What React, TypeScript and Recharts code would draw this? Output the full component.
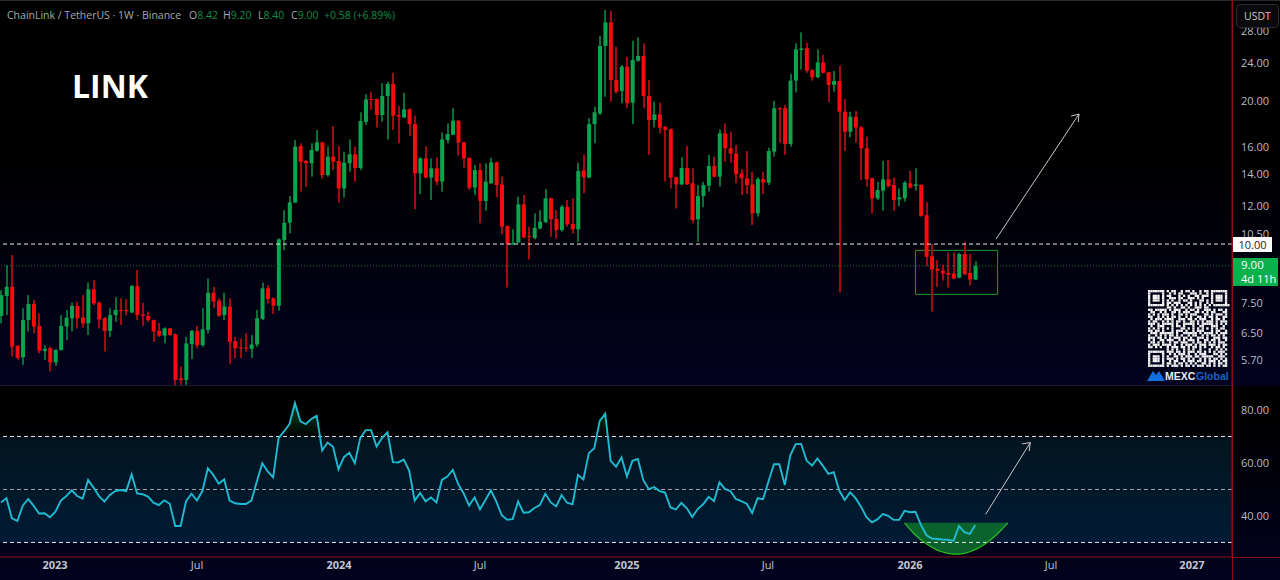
import React from "react";
import {
  ComposedChart, Bar, Line, Area, XAxis, YAxis, ReferenceLine, ReferenceArea,
} from "recharts";

const opens = [7.06,7.78,8.13,6.11,5.78,6.92,7.48,6.73,5.96,6.04,5.64,5.99,6.71,6.98,7.41,7.01,6.81,8.03,7.53,6.98,6.57,7.09,7.27,7.27,7.18,8.16,7.11,7.06,6.92,6.57,6.42,6.65,6.46,5.22,5.18,6.16,6.57,6.13,6.60,7.90,7.60,7.09,7.39,6.25,6.06,6.06,6.02,6.15,6.96,8.07,7.69,7.42,10.20,11.09,12.22,16.08,14.95,14.79,15.72,16.36,13.97,15.27,14.95,13.09,14.79,15.45,14.45,18.07,20.18,20.18,18.68,20.48,21.71,18.68,18.47,19.20,17.87,14.08,15.14,13.80,14.43,13.53,16.55,16.98,18.17,16.36,15.17,13.15,14.31,12.32,13.42,14.85,13.35,10.91,9.99,10.08,12.12,10.40,10.30,10.79,11.12,12.48,11.30,10.70,11.98,11.02,10.74,14.28,13.80,17.87,18.83,26.09,29.25,22.13,20.98,23.60,19.83,24.30,24.87,20.48,18.23,18.74,17.65,17.43,13.82,13.35,14.45,13.42,11.27,12.62,13.27,14.59,13.86,17.09,15.90,15.50,14.08,13.75,13.35,11.60,13.70,13.46,15.64,19.30,19.30,16.24,22.06,25.59,25.83,23.23,22.43,24.10,22.96,21.61,22.02,18.98,17.23,18.53,17.59,15.90,13.75,12.48,12.95,13.68,13.31,12.42,12.48,13.42,13.24,13.31,11.50,9.43,8.87,8.79,8.70,8.67,8.50,9.53,8.70,8.42];
const highs = [8.00,9.03,9.48,6.13,7.33,7.81,7.63,7.15,6.13,6.08,6.01,7.09,7.27,7.53,7.57,7.81,8.30,8.40,7.57,7.03,7.33,7.73,7.69,7.66,8.20,8.82,7.53,7.21,6.94,6.83,6.68,6.65,6.49,5.53,6.38,6.60,6.73,7.33,8.47,8.13,7.69,7.90,7.69,6.38,6.33,6.49,6.44,7.27,8.30,8.20,7.73,10.28,11.79,12.62,16.55,16.29,15.02,16.29,17.37,16.42,16.03,17.71,16.08,15.64,16.60,16.03,18.93,20.66,20.91,20.24,21.78,21.95,22.92,19.52,20.80,19.30,18.62,15.22,16.08,15.14,15.22,17.17,17.93,19.30,18.23,16.42,15.22,14.66,14.79,14.79,15.19,14.90,13.86,10.95,10.74,12.58,12.68,10.88,11.60,11.79,13.05,12.52,11.79,12.08,12.38,12.48,14.83,15.40,18.38,19.46,27.37,31.06,30.90,26.00,23.80,24.78,26.77,27.20,26.43,22.13,19.93,19.83,17.71,17.51,13.86,15.22,16.08,14.43,13.31,13.53,15.40,15.27,17.43,17.93,17.23,16.16,14.36,15.69,14.20,13.82,14.20,15.95,20.00,19.40,19.61,22.78,26.43,27.87,26.51,23.30,25.67,25.00,23.04,23.12,23.71,20.18,18.98,19.04,17.71,16.82,13.80,13.53,14.97,15.02,13.80,13.09,13.57,14.26,14.43,13.35,12.24,10.00,9.25,9.06,9.60,9.60,9.59,10.11,9.53,9.20];
const lows = [6.81,7.09,5.80,5.71,5.57,6.55,6.49,5.89,5.71,5.40,5.54,5.97,6.28,6.55,6.65,6.68,6.44,7.44,6.65,5.94,6.38,6.86,6.76,7.09,7.17,6.92,6.73,6.86,6.23,6.38,6.18,6.41,5.04,5.06,5.06,5.73,6.04,6.08,6.49,7.33,7.03,6.92,5.60,5.76,5.76,5.94,5.76,6.08,6.92,7.50,7.13,7.24,9.71,10.53,12.22,12.89,13.20,13.86,15.64,13.75,13.86,14.31,12.22,12.54,14.20,13.53,14.31,17.79,19.14,17.57,18.08,16.60,17.37,16.29,18.38,16.87,11.83,12.74,13.75,12.38,13.31,12.89,16.29,16.95,15.35,14.48,12.99,12.69,11.06,11.76,13.38,12.54,10.49,8.10,9.95,10.03,10.28,9.28,10.23,10.74,11.06,10.36,10.26,10.62,10.88,10.53,10.11,12.79,13.75,16.29,18.68,20.41,19.93,20.74,19.77,19.30,17.87,24.18,19.30,15.40,17.59,17.09,13.53,13.09,11.88,13.31,13.31,11.06,10.11,11.95,12.89,13.82,13.20,14.90,14.83,13.42,12.68,12.74,10.97,11.42,12.74,13.31,15.27,16.34,15.40,16.03,20.84,23.30,22.92,22.06,22.32,22.85,19.87,20.91,7.91,15.69,16.78,16.34,13.64,13.20,11.60,12.38,11.76,13.15,11.76,12.02,12.28,13.09,12.95,11.42,8.98,7.21,8.13,8.38,8.10,8.43,8.47,8.60,8.19,8.40];
const closes = [7.81,8.13,6.08,5.76,6.92,7.48,6.71,5.97,6.02,5.64,5.99,6.73,7.00,7.41,6.98,6.81,8.03,7.50,6.94,6.57,7.09,7.27,7.23,7.22,8.16,7.09,7.06,6.92,6.55,6.42,6.65,6.44,5.18,5.18,6.18,6.57,6.13,6.62,7.90,7.57,7.07,7.39,6.23,6.04,6.04,6.04,6.15,6.98,8.07,7.66,7.42,10.23,11.09,12.24,16.03,14.90,14.79,15.77,16.36,13.97,15.27,14.90,13.09,14.83,15.45,14.45,18.14,20.15,20.09,18.68,20.48,21.71,18.62,18.53,19.20,17.87,14.08,15.14,13.80,14.43,13.53,16.60,17.04,18.17,16.34,15.14,13.13,14.31,12.32,13.53,14.85,13.31,10.88,10.00,10.06,12.12,10.33,10.36,10.82,11.15,12.48,11.27,10.70,11.98,11.00,10.74,14.24,13.80,17.87,18.93,26.09,29.25,22.13,20.91,23.60,19.77,24.38,24.87,20.48,18.23,18.74,17.57,17.37,13.80,13.35,14.45,13.35,11.24,12.62,13.31,14.59,13.86,17.09,15.90,15.50,14.03,13.75,13.31,11.60,13.70,13.46,15.69,19.30,19.23,16.24,22.06,25.67,25.79,23.16,22.43,24.10,22.92,21.61,22.02,18.98,17.23,18.53,17.57,15.90,13.68,12.48,12.99,13.68,13.24,12.38,12.54,13.46,13.15,13.35,11.47,9.40,8.84,8.79,8.67,8.62,8.47,9.53,8.65,8.42,9.00];

const rsiValues = [45.1,46.7,39.1,38.1,43.9,46.4,43.8,40.9,41.0,39.5,41.6,45.8,47.5,49.7,47.5,46.5,53.6,50.7,47.5,45.4,47.9,49.4,49.8,49.4,55.7,48.5,48.2,47.3,45.0,44.1,45.9,44.6,36.2,36.2,45.6,48.4,45.8,49.4,58.0,55.5,52.2,53.8,45.8,44.8,44.5,44.5,45.8,53.0,59.9,56.8,54.6,69.4,71.9,74.7,82.6,75.7,74.7,76.6,77.8,64.7,67.7,66.1,57.6,62.2,63.9,59.9,69.4,72.4,72.4,66.2,69.4,71.6,60.3,60.2,61.3,57.0,45.8,48.7,45.5,47.0,45.1,53.6,54.9,57.4,52.0,48.5,43.9,47.0,42.5,46.0,49.7,45.4,40.3,38.6,38.8,45.4,41.2,41.4,43.0,44.1,48.4,45.1,43.6,47.9,45.0,44.4,55.5,53.8,63.7,65.6,75.9,78.6,60.8,58.6,62.1,54.9,60.8,61.5,53.6,50.1,50.9,49.4,48.8,43.2,42.5,44.9,42.9,39.6,42.6,44.4,47.2,45.6,52.7,50.2,49.4,46.4,45.6,44.6,41.1,46.7,46.3,53.0,59.5,59.5,51.7,62.8,67.1,67.2,60.9,59.0,61.7,58.9,55.9,56.5,49.6,46.0,48.9,46.7,43.5,39.5,37.6,38.7,40.7,40.0,38.5,38.5,41.9,41.4,41.6,36.6,32.8,31.5,31.3,31.1,31.0,30.6,36.2,33.9,33.2,36.6];

const cupIndex = [166,167,168,169,170,171,172,173,174,175,176,177,178,179,180,181,182,183,184,185];
const cupLow = [37.4,34.9,32.8,31.0,29.5,28.2,27.1,26.4,25.9,25.6,25.6,25.9,26.5,27.3,28.4,29.7,31.3,33.1,35.2,37.4];
const cupTop = 37.4;

const priceTicks = [5.7,6.5,7.5,10.5,12,14,16,20,24,28];
const rsiTicks = [40,60,80];
const timeTickIndex = [9.92,36,62.1,88,115,140.9,167,192.9,218.8];
const timeTickLabels = ["2023","Jul","2024","Jul","2025","Jul","2026","Jul","2027"];
const boldTimeLabels = ["2023","2024","2025","2026","2027"];

const qrRows = [
"#######.#.##..#.##.#..#.##.#######",
"#.....#..#.#.##...###.#..#.#.....#",
"#.###.#.##...#.#.#..##.###.#.###.#",
"#.###.#..###.##..###.#.#...#.###.#",
"#.###.#.#.#..#.##.#...##.#.#.###.#",
"#.....#.##.###...##.#.#..#.#.....#",
"#######.#.#.#.#.#.#.#.#.#.#.#######",
"........##.#..##.#..###.##........",
"##.#####.#.###..#.##.#..###.#.##.#",
".##..#.#..##.#.###..##.#.#.##...##",
"#.#.#.###.#..##.#.###...##.#.###.#",
"##..#.#.#.##.#..#.#..##.#.##.#..##",
".#.###.####..###.##.#.###..#.##.#.",
"#.##..#.#.#.##.#..##.#.#.###.#.###",
"###.#.#####.#..#####.#.#####.#.#.#",
".#..###...#.##.#...#..##...###..#.",
"#.#.#.#.#.#...##.#.#.#.#.#.#.#.##.",
"##.##.#...#.###.#..#.###...#.##..#",
".###.######.#..######.#.####.#.###",
"#..#.#.#.##.#.#..#.##..#.#.##.#.#.",
"###.##.#.#.###.##.#..###.#..###.##",
"#.#..##.###..#.#.###.#..##.##.#..#",
".##.#.#..#.##.###..#.##.#.#.#.###.",
"#.###.####.#..#.###.#.###.###.#.##",
"##.#.#..#.###.##.#.##.#.#..#.##.#.",
"........#.#.#..#.#.#..#...#..#.#.#",
"#######.###.##.#.###.##.#.#.#.###.",
"#.....#..#.#.###.#..#.###...##.#.#",
"#.###.#.#..##.#.###.##.#####..###.",
"#.###.#.###.#.##.#.#..#.#.#.##.#.#",
"#.###.#..#.##..#.###.##.#.###.#.##",
"#.....#.##.#.##.#.#.#..##.#.#.##.#",
"#######.#.###.#.##.#.###.##.#.#.##",
];

const candleData = opens.map((open, i) => ({
  index: i,
  open,
  close: closes[i],
  high: highs[i],
  low: lows[i],
  range: [lows[i], highs[i]],
}));

const rsiData = Array.from({ length: 186 }, (_, i) => {
  const value = i < rsiValues.length ? rsiValues[i] : null;
  const c = cupIndex.indexOf(i);
  return {
    index: i,
    rsi: value,
    over: value !== null && value > 70 ? [70, value] : [70, 70],
    cupLine: c >= 0 ? cupLow[c] : null,
    cupArea: c >= 0 ? [cupLow[c], cupTop] : null,
  };
});

const GREEN = "#0ca44e";
const RED = "#f50d0d";
const X_DOMAIN: [number, number] = [-0.184, 226.16];

function Candle(props: any) {
  const { x, y, width, height, payload } = props;
  if (!payload || height == null) return null;
  const { open, close, high, low } = payload;
  const up = close >= open;
  const span = Math.log(high) - Math.log(low);
  const at = (v: number) => y + ((Math.log(high) - Math.log(v)) / span) * height;
  const top = at(Math.max(open, close));
  const bot = at(Math.min(open, close));
  const cx = x + width / 2;
  return (
    <g>
      <rect x={Math.round(cx) - 1} y={y} width={2} height={height} fill={up ? "#0a6e38" : "#a00c12"} />
      <rect x={cx - 2} y={top} width={4} height={Math.max(bot - top, 1)} fill={up ? GREEN : RED} />
    </g>
  );
}

const fontFamily = "'Open Sans', sans-serif";
const axisTick = { fill: "#b8bac2", fontSize: 11, fontFamily };
const AXIS_RED = "#8c0f18";
const ARROW = "#c9c9c9";

function seg(x1: number, y1: number, x2: number, y2: number, key: string, width = 1) {
  return (
    <ReferenceLine
      key={key}
      segment={[{ x: x1, y: y1 }, { x: x2, y: y2 }]}
      stroke={ARROW}
      strokeWidth={width}
      ifOverflow="extendDomain"
    />
  );
}

function TimeTick(props: any) {
  const { x, y, payload } = props;
  const i = timeTickIndex.indexOf(payload.value);
  const label = timeTickLabels[i];
  return (
    <text x={x} y={y + 4} textAnchor="middle" fill="#c4c6ce" fontSize={11}
      fontWeight={boldTimeLabels.includes(label) ? 700 : 400} fontFamily={fontFamily}>
      {label}
    </text>
  );
}

function Qr() {
  const m = 2.33;
  return (
    <svg width={90} height={98} style={{ position: "absolute", left: 1144, top: 286 }}>
      {qrRows.map((row, r) =>
        row.split("").map((c, k) =>
          c === "#" ? <rect key={r + "-" + k} x={4 + k * m} y={4 + r * m} width={m} height={m} fill="#f4f4f4" /> : null
        )
      )}
      <path d="M3 95 L9 85 L12 89 L15 85 L21 95 Z" fill="#1170e0" />
      <text x={21} y={94} fontSize={10.5} fontWeight={700} fill="#e8ecf4" fontFamily="'Liberation Sans', sans-serif">MEXC</text>
      <text x={52} y={94} fontSize={10.5} fontWeight={700} fill="#1662c4" fontFamily="'Liberation Sans', sans-serif">Global</text>
    </svg>
  );
}

const abs = (left: number, top: number, extra: React.CSSProperties = {}): React.CSSProperties => ({
  position: "absolute", left, top, whiteSpace: "nowrap", ...extra,
});

export default function App() {
  const titleGray = "#a6a8b0";
  const titleGreen = "#0c8f48";
  const title = { fontSize: 10.5, fontFamily, lineHeight: "14px" };
  return (
    <div style={{ position: "fixed", left: 0, top: 0, width: 1280, height: 580, overflow: "hidden", background: "#000" }}>
      <div style={{ position: "absolute", left: 0, top: 0, width: 1280, height: 386, background: "linear-gradient(180deg,#000 0%,#000 40%,#02021f 100%)" }} />
      <div style={{ position: "absolute", left: 0, top: 386, width: 1280, height: 194, background: "linear-gradient(180deg,#000 0%,#000 15%,#02021f 100%)" }} />

      <div style={{ position: "absolute", left: 0, top: 0 }}>
        <ComposedChart width={1280} height={386} data={candleData} margin={{ top: 0, right: 0, bottom: 0, left: 0 }}>
          <XAxis dataKey="index" type="number" domain={X_DOMAIN} hide allowDataOverflow />
          <YAxis
            orientation="right" width={48} scale="log" type="number" domain={[5.03, 32.6]} allowDataOverflow
            ticks={priceTicks} interval={0} tickSize={0} tickMargin={9}
            tick={axisTick} tickFormatter={(v: number) => v.toFixed(2)}
            axisLine={{ stroke: AXIS_RED, strokeWidth: 1 }} tickLine={false}
          />
          <ReferenceLine y={10} stroke="#e6e6e6" strokeDasharray="4 3" strokeWidth={1} />
          <ReferenceLine y={9} stroke="#0b7a3c" strokeDasharray="1 2" strokeWidth={1} />
          <Bar dataKey="range" barSize={4} shape={<Candle />} isAnimationActive={false} />
          <ReferenceArea x1={168.0} x2={183.1} y1={7.84} y2={9.7} fill="none" stroke="#1f9a2f" strokeWidth={1} />
          {seg(182.8, 10.24, 198.06, 18.77, "a1")}
          {seg(198.06, 18.77, 196.6, 18.58, "a2")}
          {seg(198.06, 18.77, 197.9, 18.05, "a3")}
        </ComposedChart>
      </div>

      <div style={{ position: "absolute", left: 0, top: 386 }}>
        <ComposedChart width={1280} height={194} data={rsiData} margin={{ top: 0, right: 0, bottom: 0, left: 0 }}>
          <defs>
            <linearGradient id="band" x1="0" y1="0" x2="0" y2="1">
              <stop offset="0%" stopColor="#02141e" />
              <stop offset="100%" stopColor="#011b35" />
            </linearGradient>
            <linearGradient id="over" x1="0" y1="0" x2="0" y2="1">
              <stop offset="0%" stopColor="#0a7a30" stopOpacity={0.6} />
              <stop offset="100%" stopColor="#0a7a30" stopOpacity={0} />
            </linearGradient>
          </defs>
          <XAxis
            dataKey="index" type="number" domain={X_DOMAIN} height={23} allowDataOverflow
            ticks={timeTickIndex} interval={0} tickLine={false} tick={<TimeTick />}
            axisLine={{ stroke: AXIS_RED, strokeWidth: 1 }}
          />
          <YAxis
            orientation="right" width={48} type="number" domain={[24.5, 89.06]} allowDataOverflow
            ticks={rsiTicks} interval={0} tickSize={0} tickMargin={9} tick={axisTick}
            tickFormatter={(v: number) => v.toFixed(2)}
            axisLine={{ stroke: AXIS_RED, strokeWidth: 1 }} tickLine={false}
          />
          <ReferenceArea y1={30} y2={70} fill="url(#band)" fillOpacity={1} stroke="none" />
          <Area dataKey="over" stroke="none" fill="url(#over)" fillOpacity={1} isAnimationActive={false} dot={false} activeDot={false} />
          <Area dataKey="cupArea" stroke="none" fill="#0b6a2c" fillOpacity={0.9} isAnimationActive={false} dot={false} activeDot={false} />
          <ReferenceLine y={70} stroke="#e6e6e6" strokeDasharray="4 3" />
          <ReferenceLine y={50} stroke="#9fa6ad" strokeDasharray="4 3" />
          <ReferenceLine y={30} stroke="#e6e6e6" strokeDasharray="4 3" />
          <Line dataKey="cupLine" stroke="#2cc01f" strokeWidth={1.2} dot={false} activeDot={false} isAnimationActive={false} />
          <Line dataKey="rsi" stroke="#1fb9d0" strokeWidth={1.9} dot={false} activeDot={false} isAnimationActive={false} />
          {seg(180.9, 40.6, 189.1, 67.7, "b1")}
          {seg(189.1, 67.7, 187.6, 67.2, "b2")}
          {seg(189.1, 67.7, 188.9, 64.5, "b3")}
        </ComposedChart>
      </div>

      {/* frame pieces outside the plot axes */}
      <div style={{ position: "absolute", left: 0, top: 0, width: 1280, height: 1, background: "#2a2a2e" }} />
      <div style={{ position: "absolute", left: 0, top: 385, width: 1232, height: 1, background: "#1c1c2c" }} />
      <div style={{ position: "absolute", left: 1232, top: 0, width: 1, height: 580, background: AXIS_RED }} />
      <div style={{ position: "absolute", left: 1232, top: 557, width: 48, height: 1, background: AXIS_RED }} />

      {/* header */}
      <span style={abs(7, 8, { ...title, color: titleGray })}>ChainLink / TetherUS · 1W · Binance</span>
      <span style={abs(189, 8, { ...title, color: titleGray })}>O<span style={{ color: titleGreen }}>8.42</span></span>
      <span style={abs(223, 8, { ...title, color: titleGray })}>H<span style={{ color: titleGreen }}>9.20</span></span>
      <span style={abs(258, 8, { ...title, color: titleGray })}>L<span style={{ color: titleGreen }}>8.40</span></span>
      <span style={abs(291, 8, { ...title, color: titleGray })}>C<span style={{ color: titleGreen }}>9.00</span></span>
      <span style={abs(324, 8, { ...title, color: titleGreen })}>+0.58 (+6.89%)</span>

      <span style={abs(72, 63, { color: "#fff", fontSize: 32, fontWeight: 700, fontFamily, lineHeight: "46px" })}>LINK</span>

      {/* price scale badges */}
      <div style={abs(1236, 4, { width: 41, height: 22, border: "1px solid #2b2b30", borderRadius: 4, background: "#0a0a0c", color: "#c6c6c6", fontSize: 10.5, fontFamily, textAlign: "center", lineHeight: "22px" })}>USDT</div>
      <div style={abs(1233, 237, { width: 39, height: 15, background: "#fff", color: "#222", fontSize: 11, fontFamily, textAlign: "center", lineHeight: "15px" })}>10.00</div>
      <div style={abs(1233, 258, { width: 45, height: 28, background: "#0bb04c", color: "#fff", fontSize: 11.5, fontFamily, lineHeight: "13.5px", paddingLeft: 8, boxSizing: "border-box" })}>
        9.00<br /><span style={{ fontSize: 11 }}>4d 11h</span>
      </div>
      <Qr />
    </div>
  );
}
